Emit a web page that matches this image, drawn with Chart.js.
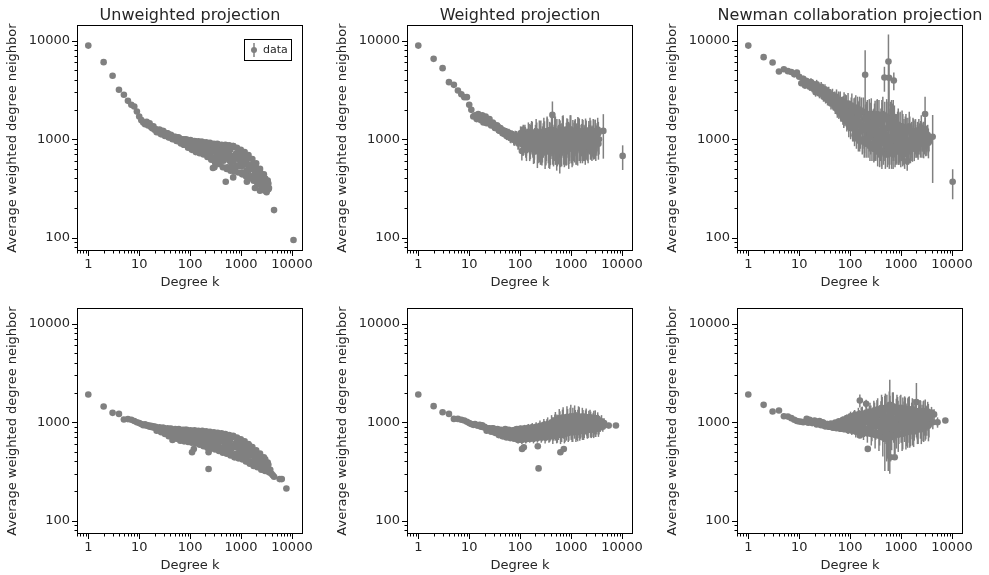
<!DOCTYPE html>
<html>
<head>
<meta charset="utf-8">
<script src="https://cdn.jsdelivr.net/npm/chart.js@4.4.1/dist/chart.umd.min.js"></script>
<style>
html, body { margin: 0; padding: 0; background: #fff; overflow: hidden; }
#wrap { position: relative; width: 989px; height: 575px; }
canvas { position: absolute; }
</style>
</head>
<body>
<div id="wrap">
<canvas id="c0" width="330" height="290" style="left:0px;top:0px"></canvas>
<canvas id="c1" width="330" height="290" style="left:330px;top:0px"></canvas>
<canvas id="c2" width="329" height="290" style="left:660px;top:0px"></canvas>
<canvas id="c3" width="330" height="290" style="left:0px;top:283px"></canvas>
<canvas id="c4" width="330" height="290" style="left:330px;top:283px"></canvas>
<canvas id="c5" width="329" height="290" style="left:660px;top:283px"></canvas>
</div>
<script>
// degree values k shared by all panels (rows of 10)
const degreeSeq = [
	1, 2, 3, 4, 5, 6, 7, 8, 9, 10,
	11, 12, 13, 14, 15, 16, 17, 18, 19, 20,
	21, 22, 24, 25, 27, 28, 30, 32, 34, 36,
	38, 40, 42, 45, 48, 51, 54, 57, 60, 64,
	68, 72, 76, 81, 86, 91, 96, 102, 108, 115,
	122, 129, 137, 145, 154, 163, 173, 183, 194, 206,
	218, 231, 245, 260, 275, 292, 309, 328, 347, 368,
	390, 414, 438, 465, 492, 522, 553, 586, 621, 658,
	698, 739, 783, 830, 880, 932, 988, 1047, 1109, 1175,
	1245, 1320, 1398, 1482, 1570, 1664, 1763, 1868, 1979, 2097,
	2222, 2355, 2495, 2644, 2801, 2968, 3145, 3333, 3531
];
// second set of degrees lying between the ones above
const degreeSeq2 = [
	23, 26, 29, 31, 33, 35, 37, 39, 41, 44,
	47, 50, 53, 56, 59, 62, 66, 70, 74, 79,
	84, 89, 94, 99, 105, 112, 119, 126, 133, 141,
	150, 159, 168, 178, 189, 200, 212, 225, 238, 253,
	268, 284, 301, 319, 338, 358, 379, 402, 426, 452,
	479, 507, 538, 570, 604, 640, 678, 719, 761, 807,
	855, 906, 960, 1018, 1078, 1142, 1210, 1283, 1359, 1440,
	1526, 1617, 1714, 1816, 1924, 2038, 2160, 2289, 2425, 2570,
	2723, 2885, 3057, 3239, 3432
];
// third set, dense part of the clouds
const degreeSeq3 = [
	52, 56, 60, 65, 70, 75, 80, 86, 93, 100,
	107, 115, 124, 133, 143, 154, 165, 178, 191, 205,
	221, 237, 255, 274, 295, 317, 341, 366, 394, 423,
	455, 489, 526, 565, 608, 653, 702, 755, 812, 873,
	938, 1008, 1084, 1165, 1253, 1347, 1448, 1556, 1673, 1798,
	1933, 2078, 2234, 2401, 2581, 2775, 2983, 3207, 3447
];

const xTickLabels = [1, 10, 100, 1000, 10000];
const yTickLabels = [100, 1000, 10000];

// top left: unweighted projection
const unwTopV = [
	8900, 6050, 4400, 3170, 2820, 2450, 2230, 2150, 1910, 1700,
	1560, 1480, 1420, 1500, 1380, 1450, 1330, 1290, 1350, 1250,
	1270, 1180, 1230, 1250, 1120, 1180, 1200, 1080, 1130, 1150,
	1040, 1090, 1110, 1000, 1050, 1060, 960, 1010, 1030, 930,
	980, 1000, 880, 950, 990, 820, 920, 980, 780, 880,
	960, 740, 850, 950, 720, 830, 940, 700, 810, 930,
	660, 780, 920, 620, 760, 900, 580, 740, 890, 560,
	720, 880, 520, 700, 880, 500, 690, 870, 480, 680,
	850, 470, 650, 820, 460, 620, 780, 440, 590, 740,
	420, 560, 690, 400, 520, 630, 380, 470, 570, 350,
	430, 500, 330, 390, 440, 310, 350, 380, 320
];
const unwTopV2 = [
	1205, 1140, 1215, 1120, 1085, 1150, 1125, 1050, 1105, 1040,
	1005, 1050, 1040, 970, 1045, 965, 905, 965, 975, 880,
	975, 875, 835, 905, 925, 815, 950, 845, 760, 875,
	895, 775, 925, 800, 715, 845, 865, 715, 895, 735,
	640, 790, 835, 665, 865, 715, 575, 775, 815, 605,
	840, 640, 520, 720, 780, 580, 830, 610, 500, 680,
	720, 540, 760, 580, 460, 640, 660, 480, 660, 500,
	420, 540, 560, 420, 540, 440, 360, 440, 450, 360,
	420, 360, 315, 350, 355
];
const unwTopV3 = [
	1000, 960, 1025, 960, 995, 880, 1000, 910, 840, 930,
	890, 820, 950, 840, 900, 730, 940, 820, 740, 860,
	810, 720, 890, 760, 840, 620, 900, 740, 640, 800,
	760, 640, 860, 690, 780, 520, 850, 660, 540, 720,
	640, 530, 700, 550, 630, 420, 640, 500, 420, 520,
	470, 390, 490, 390, 430, 320, 400, 340, 310
];
const unwTopExK = [280, 300, 500, 700, 1300, 1870, 2350, 2960, 3170, 4440, 10700, 110, 130, 160, 190, 250, 330, 400, 520, 600, 800, 900, 1150, 1400, 2000];
const unwTopExV = [510, 520, 370, 410, 370, 320, 300, 300, 290, 191, 95, 850, 900, 800, 870, 700, 820, 640, 780, 600, 720, 540, 650, 480, 420];

// top middle: weighted projection
const wTopV = [
	8900, 6530, 5260, 3790, 3560, 3120, 2860, 2670, 2670, 2230,
	1985, 1700, 1750, 1600, 1800, 1650, 1560, 1750, 1480, 1620,
	1700, 1450, 1550, 1600, 1380, 1450, 1430, 1300, 1340, 1350,
	1230, 1280, 1260, 1150, 1220, 1200, 1080, 1150, 1130, 1030,
	1100, 1080, 980, 1060, 1050, 930, 1030, 1150, 760, 980,
	1100, 850, 1000, 1180, 800, 950, 1150, 780, 1000, 1200,
	760, 920, 1120, 800, 1000, 1200, 750, 950, 1150, 760,
	900, 1250, 800, 1000, 1200, 780, 950, 1150, 800, 1050,
	1250, 820, 950, 1180, 850, 1050, 1250, 800, 950, 1150,
	850, 1000, 1200, 880, 1050, 1200, 900, 1000, 1150, 880,
	1050, 1250, 900, 1000, 1200, 950, 1050, 1250, 1000
];
const wTopErr = [
	0, 0, 0, 0, 0, 0, 0, 0, 0, 0,
	0, 0, 20, 20, 30, 30, 30, 40, 40, 40,
	50, 50, 60, 60, 60, 70, 70, 70, 80, 80,
	80, 90, 90, 90, 100, 100, 100, 110, 110, 110,
	120, 120, 120, 130, 140, 150, 160, 200, 150, 180,
	220, 200, 250, 300, 200, 250, 350, 220, 300, 400,
	250, 300, 400, 250, 350, 450, 250, 350, 450, 250,
	350, 550, 250, 400, 500, 300, 400, 450, 280, 400,
	500, 300, 400, 450, 300, 400, 500, 280, 350, 400,
	300, 350, 450, 280, 350, 400, 300, 350, 400, 280,
	330, 400, 280, 330, 380, 300, 330, 400, 300
];
const wTopV2 = [
	1520, 1420, 1480, 1360, 1300, 1380, 1320, 1220, 1300, 1200,
	1150, 1210, 1190, 1100, 1160, 1080, 1030, 1090, 1080, 1000,
	1060, 990, 950, 1050, 1100, 880, 1050, 920, 820, 1000,
	1100, 880, 1150, 950, 800, 1050, 1100, 850, 1150, 900,
	800, 1050, 1100, 850, 1200, 950, 780, 1050, 1150, 850,
	1200, 900, 780, 1000, 1100, 850, 1200, 900, 800, 1050,
	1150, 880, 1250, 950, 820, 1050, 1150, 880, 1200, 950,
	850, 1050, 1150, 900, 1200, 950, 850, 1050, 1150, 900,
	1200, 950, 880, 1100, 1150
];
const wTopErr2 = [
	60, 60, 70, 70, 70, 80, 80, 80, 90, 90,
	100, 100, 110, 110, 110, 120, 120, 130, 130, 140,
	150, 150, 150, 180, 220, 200, 250, 230, 220, 280,
	330, 250, 380, 300, 230, 350, 380, 280, 400, 300,
	260, 400, 420, 300, 500, 380, 250, 420, 480, 320,
	500, 350, 250, 400, 450, 300, 520, 350, 260, 420,
	450, 320, 500, 380, 280, 420, 450, 300, 480, 350,
	280, 380, 420, 300, 420, 330, 280, 350, 400, 300,
	400, 320, 280, 350, 350
];
const wTopV3 = [
	1150, 1100, 1160, 1060, 1100, 1000, 1080, 990, 940, 1020,
	950, 880, 1100, 900, 1000, 820, 1120, 930, 840, 1000,
	920, 830, 1150, 880, 1050, 800, 1200, 900, 820, 1050,
	950, 820, 1150, 880, 1050, 780, 1200, 900, 800, 1050,
	950, 850, 1150, 900, 1050, 820, 1200, 920, 850, 1050,
	1000, 900, 1150, 920, 1050, 880, 1200, 980, 900
];
const wTopErr3 = [
	100, 100, 120, 110, 120, 120, 140, 140, 150, 180,
	220, 200, 300, 220, 260, 200, 330, 250, 220, 300,
	280, 250, 400, 300, 350, 260, 450, 320, 270, 380,
	350, 270, 450, 320, 380, 250, 480, 330, 260, 400,
	350, 280, 420, 320, 380, 280, 420, 320, 280, 350,
	330, 280, 380, 300, 330, 260, 380, 300, 280
];
const wTopExK = [430, 4300, 10300, 115, 160, 250, 380, 600, 900, 1300, 1900, 2700];
const wTopExV = [1765, 1215, 677, 1250, 1100, 950, 1000, 1000, 1000, 1000, 950, 1000];
const wTopExErr = [650, 580, 190, 150, 300, 400, 500, 550, 500, 450, 400, 350];

// top right: Newman collaboration projection
const nwTopV = [
	8900, 6800, 6000, 4860, 5130, 4900, 4800, 4550, 4750, 4300,
	3700, 4100, 3500, 3900, 3600, 3400, 3800, 3300, 3600, 3500,
	3000, 3600, 3300, 2900, 3400, 3100, 2700, 3200, 2900, 2500,
	3000, 2700, 2300, 2800, 2500, 2100, 2700, 2300, 1900, 2500,
	2100, 1700, 2400, 1900, 1500, 2300, 1800, 1300, 2200, 1600,
	1100, 2100, 1500, 1000, 2000, 1400, 950, 1900, 1300, 900,
	1800, 1250, 850, 1800, 1200, 800, 1700, 1150, 750, 1700,
	1100, 750, 1800, 1100, 700, 1700, 1050, 720, 1600, 1050,
	700, 1500, 1000, 750, 1400, 980, 720, 1350, 950, 700,
	1300, 950, 750, 1250, 950, 800, 1200, 950, 850, 1150,
	1000, 900, 1300, 1050, 950, 1150, 1000, 1100, 950
];
const nwTopErr = [
	0, 0, 0, 0, 0, 50, 60, 80, 100, 200,
	250, 300, 250, 300, 300, 300, 350, 300, 350, 350,
	300, 400, 350, 300, 400, 350, 300, 400, 350, 300,
	400, 350, 300, 450, 400, 300, 500, 400, 300, 550,
	450, 300, 600, 450, 300, 650, 450, 300, 700, 450,
	250, 700, 450, 250, 700, 450, 250, 750, 450, 250,
	700, 450, 250, 800, 450, 220, 750, 450, 220, 800,
	500, 220, 900, 500, 200, 850, 500, 220, 800, 450,
	200, 700, 450, 200, 650, 400, 200, 600, 400, 200,
	500, 350, 200, 450, 350, 200, 400, 300, 200, 350,
	300, 200, 450, 300, 200, 350, 250, 300, 200
];
const nwTopV2 = [
	3400, 3000, 3200, 2800, 2600, 3000, 2900, 2500, 2800, 2400,
	2300, 2600, 2500, 2100, 2500, 2000, 1800, 2200, 2200, 1700,
	2200, 1700, 1400, 1900, 2000, 1300, 1900, 1400, 1100, 1700,
	1800, 1200, 1900, 1300, 950, 1600, 1700, 1000, 1800, 1150,
	900, 1400, 1600, 1000, 1700, 1150, 800, 1400, 1600, 950,
	1600, 1100, 800, 1300, 1500, 950, 1500, 1050, 780, 1250,
	1350, 900, 1350, 1000, 780, 1150, 1200, 850, 1200, 950,
	850, 1100, 1200, 900, 1200, 1000, 900, 1100, 1150, 950,
	1150, 1000, 950, 1050, 1000
];
const nwTopErr2 = [
	350, 300, 400, 300, 300, 350, 400, 300, 400, 350,
	350, 450, 500, 350, 550, 350, 300, 500, 550, 350,
	600, 450, 350, 550, 650, 350, 700, 450, 300, 600,
	650, 400, 750, 500, 300, 650, 700, 350, 750, 450,
	300, 600, 700, 400, 800, 500, 280, 650, 750, 400,
	800, 450, 280, 600, 750, 400, 800, 450, 260, 550,
	550, 350, 550, 400, 250, 450, 500, 300, 450, 350,
	280, 400, 450, 300, 400, 320, 280, 350, 380, 300,
	350, 300, 280, 300, 280
];
const nwTopV3 = [
	2300, 2000, 2500, 1900, 2200, 1600, 2300, 1800, 1500, 1900,
	1700, 1300, 2000, 1400, 1800, 1000, 1900, 1350, 1000, 1600,
	1400, 1050, 1700, 1150, 1500, 850, 1800, 1200, 900, 1500,
	1300, 950, 1650, 1050, 1450, 780, 1700, 1100, 820, 1350,
	1100, 900, 1300, 950, 1200, 800, 1350, 1000, 850, 1150,
	1050, 950, 1200, 950, 1100, 900, 1250, 1000, 920
];
const nwTopErr3 = [
	400, 350, 500, 350, 450, 300, 550, 400, 300, 500,
	500, 350, 650, 400, 600, 250, 700, 400, 280, 550,
	450, 300, 650, 400, 550, 230, 750, 450, 260, 600,
	500, 300, 750, 400, 600, 230, 800, 420, 250, 550,
	400, 300, 500, 350, 450, 230, 550, 350, 260, 400,
	350, 300, 400, 300, 350, 260, 400, 320, 280
];
const nwTopExK = [197, 471, 565, 580, 720, 1320, 2960, 3100, 4170, 10300, 140, 300, 420, 650, 900];
const nwTopExV = [4500, 4230, 6140, 4200, 3940, 600, 1800, 1080, 1060, 371, 1800, 1300, 1500, 1500, 1200];
const nwTopExErr = [3500, 1200, 5400, 2000, 800, 120, 900, 300, 700, 125, 900, 700, 1000, 1000, 650];

// bottom left: unweighted projection
const unwBotV = [
	1910, 1443, 1244, 1215, 1064, 1075, 1060, 1030, 1000, 980,
	960, 930, 950, 920, 930, 900, 920, 890, 910, 880,
	900, 820, 860, 890, 790, 850, 880, 760, 830, 870,
	720, 800, 860, 660, 780, 850, 680, 770, 850, 650,
	760, 840, 640, 740, 840, 630, 740, 830, 620, 720,
	830, 610, 710, 820, 590, 700, 820, 570, 690, 810,
	550, 680, 800, 540, 670, 790, 530, 660, 780, 510,
	640, 770, 490, 620, 760, 480, 600, 740, 460, 580,
	730, 440, 560, 700, 430, 540, 670, 420, 520, 640,
	400, 490, 600, 380, 460, 560, 360, 440, 520, 350,
	410, 480, 330, 380, 440, 320, 350, 390, 310
];
const unwBotV2 = [
	870, 815, 880, 820, 775, 835, 840, 760, 850, 750,
	700, 790, 815, 715, 840, 730, 660, 760, 790, 690,
	820, 710, 650, 750, 780, 670, 810, 700, 630, 740,
	770, 650, 800, 680, 600, 720, 750, 620, 780, 650,
	560, 690, 730, 590, 760, 620, 520, 670, 710, 550,
	740, 590, 500, 650, 680, 530, 710, 560, 460, 610,
	640, 490, 660, 520, 440, 580, 590, 450, 580, 460,
	400, 490, 510, 400, 500, 420, 355, 430, 440, 350,
	430, 370, 325, 360, 370
];
const unwBotV3 = [
	780, 715, 830, 740, 800, 660, 840, 750, 680, 780,
	740, 660, 800, 700, 760, 610, 810, 690, 610, 740,
	690, 610, 760, 650, 720, 540, 770, 640, 550, 690,
	640, 550, 720, 590, 660, 470, 720, 570, 480, 610,
	570, 470, 620, 490, 560, 400, 580, 460, 390, 480,
	440, 380, 470, 380, 420, 330, 420, 350, 320
];
const unwBotExK = [3740, 3960, 4200, 4450, 5730, 6300, 7760, 109, 118, 230, 230, 110, 130, 160, 190, 250, 330, 400, 520, 600, 800, 900, 1150, 1400, 2000];
const unwBotExV = [330, 300, 290, 280, 265, 265, 213, 496, 535, 496, 335, 760, 700, 740, 660, 700, 720, 680, 660, 640, 620, 600, 570, 520, 450];

// bottom middle: weighted projection
const wBotV = [
	1910, 1455, 1264, 1215, 1081, 1080, 1060, 1040, 1010, 980,
	960, 940, 960, 930, 920, 940, 900, 930, 890, 900,
	880, 820, 860, 870, 800, 850, 860, 780, 830, 850,
	740, 810, 840, 720, 800, 850, 700, 780, 840, 690,
	770, 830, 680, 760, 850, 660, 750, 860, 660, 760,
	870, 670, 770, 880, 680, 780, 890, 680, 800, 900,
	690, 810, 920, 700, 820, 940, 700, 840, 960, 720,
	850, 1000, 720, 870, 1050, 740, 900, 1100, 740, 920,
	1120, 760, 930, 1130, 780, 950, 1150, 790, 960, 1150,
	800, 970, 1150, 810, 980, 1140, 820, 980, 1130, 830,
	990, 1120, 840, 1000, 1110, 850, 1000, 1080, 880
];
const wBotErr = [
	0, 0, 0, 0, 0, 0, 0, 0, 0, 0,
	0, 0, 0, 0, 0, 10, 10, 10, 10, 10,
	10, 10, 10, 15, 15, 15, 20, 20, 20, 20,
	20, 25, 25, 25, 30, 30, 30, 35, 35, 35,
	40, 40, 40, 45, 50, 50, 50, 60, 60, 60,
	70, 60, 70, 80, 60, 70, 90, 70, 80, 100,
	70, 90, 120, 80, 100, 140, 90, 110, 160, 100,
	130, 180, 120, 150, 220, 130, 170, 260, 140, 200,
	300, 150, 200, 320, 150, 220, 350, 160, 220, 330,
	170, 200, 300, 160, 210, 260, 160, 200, 250, 150,
	190, 220, 150, 180, 200, 140, 170, 180, 130
];
const wBotV2 = [
	860, 830, 870, 810, 790, 840, 830, 770, 820, 760,
	720, 800, 810, 730, 830, 740, 700, 780, 800, 700,
	830, 740, 690, 790, 820, 700, 840, 730, 680, 800,
	840, 720, 870, 760, 690, 820, 850, 710, 880, 760,
	720, 870, 900, 760, 930, 800, 720, 900, 950, 760,
	1000, 820, 740, 950, 1050, 800, 1080, 850, 770, 1000,
	1080, 830, 1100, 880, 790, 1000, 1050, 830, 1080, 880,
	840, 1000, 1080, 860, 1080, 920, 840, 1000, 1060, 870,
	1050, 920, 860, 1000, 1020
];
const wBotErr2 = [
	10, 10, 15, 15, 15, 20, 20, 20, 25, 25,
	25, 30, 30, 30, 35, 35, 35, 40, 40, 40,
	45, 45, 45, 50, 60, 55, 70, 60, 55, 70,
	80, 60, 90, 70, 60, 80, 90, 70, 100, 80,
	80, 120, 130, 100, 150, 110, 90, 150, 170, 110,
	200, 140, 120, 190, 240, 150, 260, 170, 140, 220,
	280, 180, 300, 200, 160, 250, 280, 170, 260, 190,
	160, 220, 250, 170, 240, 190, 150, 200, 220, 160,
	200, 170, 150, 180, 170
];
const wBotV3 = [
	790, 740, 830, 750, 800, 700, 840, 760, 700, 800,
	780, 710, 850, 740, 800, 680, 870, 760, 700, 820,
	780, 720, 880, 760, 840, 700, 920, 790, 720, 880,
	860, 760, 1000, 800, 930, 740, 1080, 860, 770, 980,
	960, 820, 1100, 870, 1020, 790, 1120, 900, 820, 1000,
	950, 860, 1080, 880, 1000, 840, 1100, 920, 860
];
const wBotErr3 = [
	30, 30, 35, 35, 40, 35, 45, 40, 40, 50,
	55, 50, 70, 55, 65, 50, 80, 60, 55, 75,
	70, 60, 100, 75, 90, 60, 130, 90, 70, 120,
	130, 110, 200, 140, 180, 110, 260, 160, 120, 220,
	230, 160, 300, 190, 250, 150, 300, 200, 160, 230,
	200, 170, 230, 180, 200, 150, 220, 170, 150
];
const wBotExK = [109, 118, 222, 230, 617, 720, 3740, 3960, 4200, 4450, 5480, 7600];
const wBotExV = [535, 557, 570, 340, 496, 535, 950, 1020, 900, 980, 925, 925];
const wBotExErr = [0, 0, 0, 0, 0, 0, 150, 160, 100, 120, 60, 40];

// bottom right: Newman collaboration projection
const nwBotV = [
	1910, 1500, 1284, 1314, 1150, 1140, 1100, 1060, 1030, 1016,
	1010, 1000, 1010, 1080, 990, 1060, 1000, 980, 1000, 1040,
	1000, 950, 980, 1030, 930, 960, 980, 910, 950, 960,
	900, 940, 970, 890, 950, 990, 870, 960, 1020, 860,
	980, 1060, 850, 990, 1100, 830, 1000, 1150, 820, 1010,
	1180, 800, 1000, 1200, 790, 1000, 1220, 780, 1010, 1250,
	770, 1000, 1280, 760, 1000, 1300, 740, 1000, 1350, 730,
	1020, 1400, 700, 1050, 1400, 680, 1050, 1450, 700, 1080,
	1450, 720, 1080, 1400, 750, 1100, 1400, 760, 1080, 1380,
	780, 1100, 1350, 800, 1100, 1350, 820, 1080, 1300, 850,
	1100, 1300, 850, 1100, 1300, 900, 1150, 1280, 950
];
const nwBotErr = [
	0, 0, 0, 0, 0, 0, 0, 0, 0, 0,
	0, 0, 0, 10, 10, 10, 10, 10, 10, 20,
	20, 20, 20, 25, 25, 25, 30, 30, 30, 30,
	30, 35, 35, 40, 40, 45, 45, 50, 60, 50,
	70, 80, 60, 80, 100, 70, 100, 130, 80, 120,
	150, 100, 150, 200, 100, 180, 220, 120, 200, 250,
	150, 220, 300, 180, 250, 350, 200, 280, 400, 220,
	300, 500, 250, 320, 550, 280, 350, 600, 300, 400,
	550, 250, 380, 500, 250, 380, 500, 250, 350, 450,
	250, 350, 450, 250, 330, 400, 260, 320, 380, 250,
	320, 380, 250, 300, 360, 250, 300, 330, 250
];
const nwBotV2 = [
	1010, 950, 1000, 940, 910, 960, 950, 900, 950, 890,
	880, 960, 980, 890, 1000, 900, 860, 970, 1010, 860,
	1080, 930, 860, 1020, 1100, 880, 1150, 950, 830, 1080,
	1150, 900, 1200, 980, 820, 1100, 1180, 860, 1220, 950,
	800, 1150, 1250, 900, 1300, 1000, 760, 1250, 1350, 880,
	1350, 950, 720, 1150, 1300, 850, 1400, 1000, 740, 1250,
	1300, 900, 1350, 1000, 780, 1200, 1300, 850, 1300, 950,
	850, 1200, 1300, 950, 1300, 1050, 880, 1150, 1250, 920,
	1250, 1050, 950, 1150, 1200
];
const nwBotErr2 = [
	20, 20, 25, 25, 25, 30, 30, 30, 35, 35,
	35, 40, 40, 40, 45, 45, 50, 60, 70, 60,
	90, 80, 70, 100, 130, 90, 150, 110, 80, 150,
	180, 120, 220, 150, 110, 200, 230, 130, 250, 160,
	160, 280, 330, 220, 380, 270, 180, 380, 450, 250,
	500, 350, 280, 450, 550, 320, 600, 380, 270, 480,
	500, 300, 500, 380, 250, 420, 480, 280, 450, 330,
	280, 380, 420, 300, 400, 330, 280, 360, 400, 280,
	380, 320, 280, 330, 330
];
const nwBotV3 = [
	960, 900, 1000, 880, 960, 860, 1020, 920, 870, 980,
	1000, 880, 1150, 920, 1060, 820, 1200, 950, 850, 1100,
	1000, 850, 1200, 920, 1100, 780, 1300, 950, 800, 1150,
	1100, 880, 1350, 950, 1200, 740, 1400, 1000, 780, 1200,
	1100, 900, 1300, 950, 1150, 800, 1350, 1000, 850, 1150,
	1100, 950, 1250, 980, 1150, 880, 1300, 1050, 920
];
const nwBotErr3 = [
	50, 45, 60, 50, 60, 50, 70, 60, 55, 80,
	100, 80, 160, 100, 140, 80, 200, 120, 90, 180,
	180, 130, 280, 180, 240, 120, 350, 200, 140, 300,
	350, 250, 550, 300, 450, 220, 600, 350, 240, 450,
	400, 280, 480, 320, 400, 250, 480, 330, 270, 380,
	350, 280, 400, 300, 350, 250, 400, 320, 280
];
const nwBotExK = [155, 155, 206, 222, 617, 750, 480, 560, 600, 2000, 3740, 3960, 4200, 4450, 5200, 7400];
const nwBotExV = [1660, 732, 1536, 536, 441, 441, 800, 750, 1500, 1600, 1100, 1250, 1000, 1200, 1000, 1040];
const nwBotExErr = [250, 30, 150, 0, 0, 0, 480, 430, 1200, 900, 200, 180, 150, 150, 120, 60];

const GREY = '#808080';
const TEXT = '#262626';
const FONT = '"DejaVu Sans", sans-serif';

var addPoints = (pts, ks, vs, errs) => {
	for (let i = 0; i < ks.length; i++) {
		if (vs[i] === undefined) continue;
		pts.push({x: ks[i], y: vs[i], err: errs ? errs[i] : 0});
	}
}

// sets: list of [degrees, values, errors]
var buildPoints = (sets) => {
	const pts = [];
	sets.forEach(s => addPoints(pts, s[0], s[1], s[2]));
	return pts;
}

// minor + major log ticks between the axis limits
var logTicks = (min, max) => {
	const out = [];
	[0.1, 1, 10, 100, 1000, 10000].forEach(d => {
		for (let m = 1; m <= 9; m++) {
			const v = d * m;
			if (v >= min && v <= max) out.push({value: v});
		}
	});
	return out;
}

var isDecade = (v) => Math.abs(Math.log10(v) - Math.round(Math.log10(v))) < 1e-9;

const errorBars = {
	id: 'errorBars',
	beforeDatasetsDraw(chart) {
		const {ctx, chartArea: a, scales: {x, y}} = chart;
		ctx.save();
		ctx.beginPath();
		ctx.rect(a.left, a.top, a.right - a.left, a.bottom - a.top);
		ctx.clip();
		ctx.strokeStyle = GREY;
		ctx.lineWidth = 1.5;
		chart.data.datasets[0].data.forEach(p => {
			if (!p.err) return;
			const px = x.getPixelForValue(p.x);
			ctx.beginPath();
			ctx.moveTo(px, y.getPixelForValue(p.y + p.err));
			ctx.lineTo(px, y.getPixelForValue(Math.max(p.y - p.err, 1)));
			ctx.stroke();
		});
		ctx.restore();
	}
};

const frame = {
	id: 'frame',
	afterDraw(chart) {
		const {ctx, chartArea: a, scales: {x, y}} = chart;
		ctx.save();
		ctx.strokeStyle = '#000';
		ctx.lineWidth = 1;
		ctx.strokeRect(a.left + 0.5, a.top + 0.5, a.right - a.left - 1, a.bottom - a.top - 1);
		ctx.beginPath();
		x.ticks.forEach(t => {
			const len = isDecade(t.value) ? 5 : 2.5;
			const px = Math.round(x.getPixelForValue(t.value)) + 0.5;
			ctx.moveTo(px, a.bottom);
			ctx.lineTo(px, a.bottom + len);
		});
		y.ticks.forEach(t => {
			const len = isDecade(t.value) ? 5 : 2.5;
			const py = Math.round(y.getPixelForValue(t.value)) + 0.5;
			ctx.moveTo(a.left, py);
			ctx.lineTo(a.left - len, py);
		});
		ctx.stroke();
		ctx.restore();
	}
};

// panel title, centred over the plot area (may run past its right edge)
const panelTitle = {
	id: 'panelTitle',
	afterDraw(chart, args, opts) {
		if (!opts.text) return;
		const {ctx, chartArea: a} = chart;
		ctx.save();
		ctx.fillStyle = TEXT;
		ctx.font = '16px ' + FONT;
		ctx.textAlign = 'center';
		ctx.textBaseline = 'alphabetic';
		ctx.fillText(opts.text, (a.left + a.right) / 2, a.top - 5);
		ctx.restore();
	}
};

const legendBox = {
	id: 'legendBox',
	afterDraw(chart) {
		const {ctx, chartArea: a} = chart;
		const w = 47, h = 21;
		const x0 = Math.round(a.right - 12 - w), y0 = Math.round(a.top + 14);
		ctx.save();
		ctx.fillStyle = '#fff';
		ctx.fillRect(x0, y0, w, h);
		ctx.strokeStyle = '#000';
		ctx.lineWidth = 1;
		ctx.strokeRect(x0 + 0.5, y0 + 0.5, w, h);
		ctx.strokeStyle = GREY;
		ctx.lineWidth = 1.5;
		ctx.beginPath();
		ctx.moveTo(x0 + 10, y0 + 4);
		ctx.lineTo(x0 + 10, y0 + h - 3);
		ctx.stroke();
		ctx.fillStyle = GREY;
		ctx.beginPath();
		ctx.arc(x0 + 10, y0 + h / 2 + 0.5, 3, 0, Math.PI * 2);
		ctx.fill();
		ctx.fillStyle = TEXT;
		ctx.font = '11px ' + FONT;
		ctx.textBaseline = 'middle';
		ctx.fillText(chart.data.datasets[0].label, x0 + 19, y0 + h / 2 + 1);
		ctx.restore();
	}
};

var drawPanel = (id, title, points, rightPad, withLegend) => {
	const plugins = [errorBars, frame, panelTitle];
	if (withLegend) plugins.push(legendBox);
	return new Chart(document.getElementById(id), {
		type: 'scatter',
		data: {
			datasets: [{
				label: 'data',
				data: points,
				backgroundColor: GREY,
				borderWidth: 0,
				pointRadius: 3.3,
				pointHoverRadius: 3.3
			}]
		},
		options: {
			responsive: false,
			animation: false,
			events: [],
			devicePixelRatio: 1,
			layout: {padding: {left: 0, right: rightPad, top: 25, bottom: 0}},
			plugins: {
				legend: {display: false},
				tooltip: {enabled: false},
				title: {display: false},
				panelTitle: {text: title}
			},
			scales: {
				x: {
					type: 'logarithmic',
					min: 0.608,
					max: 16440,
					afterFit: (s) => { s.height = 39; },
					afterBuildTicks: (s) => { s.ticks = logTicks(s.min, s.max); },
					grid: {display: false, drawTicks: true, tickLength: 5},
					border: {display: false},
					ticks: {
						autoSkip: false,
						maxRotation: 0,
						minRotation: 0,
						padding: 1,
						color: TEXT,
						font: {family: FONT, size: 13},
						callback: (v) => xTickLabels.includes(v) ? String(v) : ''
					},
					title: {
						display: true,
						text: 'Degree k',
						color: TEXT,
						font: {family: FONT, size: 13},
						padding: {top: 0, bottom: 0}
					}
				},
				y: {
					type: 'logarithmic',
					min: 73.5,
					max: 14400,
					afterFit: (s) => { s.width = 77; },
					afterBuildTicks: (s) => { s.ticks = logTicks(s.min, s.max); },
					grid: {display: false, drawTicks: true, tickLength: 5},
					border: {display: false},
					ticks: {
						autoSkip: false,
						padding: 2,
						color: TEXT,
						font: {family: FONT, size: 13},
						callback: (v) => yTickLabels.includes(v) ? String(v) : ''
					},
					title: {
						display: true,
						text: 'Average weighted degree neighbor',
						color: TEXT,
						font: {family: FONT, size: 13},
						padding: {top: 5, bottom: 0}
					}
				}
			}
		},
		plugins: plugins
	});
}

drawPanel('c0', 'Unweighted projection', buildPoints([
	[degreeSeq, unwTopV], [degreeSeq2, unwTopV2], [degreeSeq3, unwTopV3], [unwTopExK, unwTopExV]
]), 27, true);
drawPanel('c1', 'Weighted projection', buildPoints([
	[degreeSeq, wTopV, wTopErr], [degreeSeq2, wTopV2, wTopErr2], [degreeSeq3, wTopV3, wTopErr3], [wTopExK, wTopExV, wTopExErr]
]), 27, false);
drawPanel('c2', 'Newman collaboration projection', buildPoints([
	[degreeSeq, nwTopV, nwTopErr], [degreeSeq2, nwTopV2, nwTopErr2], [degreeSeq3, nwTopV3, nwTopErr3], [nwTopExK, nwTopExV, nwTopExErr]
]), 26, false);
drawPanel('c3', '', buildPoints([
	[degreeSeq, unwBotV], [degreeSeq2, unwBotV2], [degreeSeq3, unwBotV3], [unwBotExK, unwBotExV]
]), 27, false);
drawPanel('c4', '', buildPoints([
	[degreeSeq, wBotV, wBotErr], [degreeSeq2, wBotV2, wBotErr2], [degreeSeq3, wBotV3, wBotErr3], [wBotExK, wBotExV, wBotExErr]
]), 27, false);
drawPanel('c5', '', buildPoints([
	[degreeSeq, nwBotV, nwBotErr], [degreeSeq2, nwBotV2, nwBotErr2], [degreeSeq3, nwBotV3, nwBotErr3], [nwBotExK, nwBotExV, nwBotExErr]
]), 26, false);
</script>
</body>
</html>
